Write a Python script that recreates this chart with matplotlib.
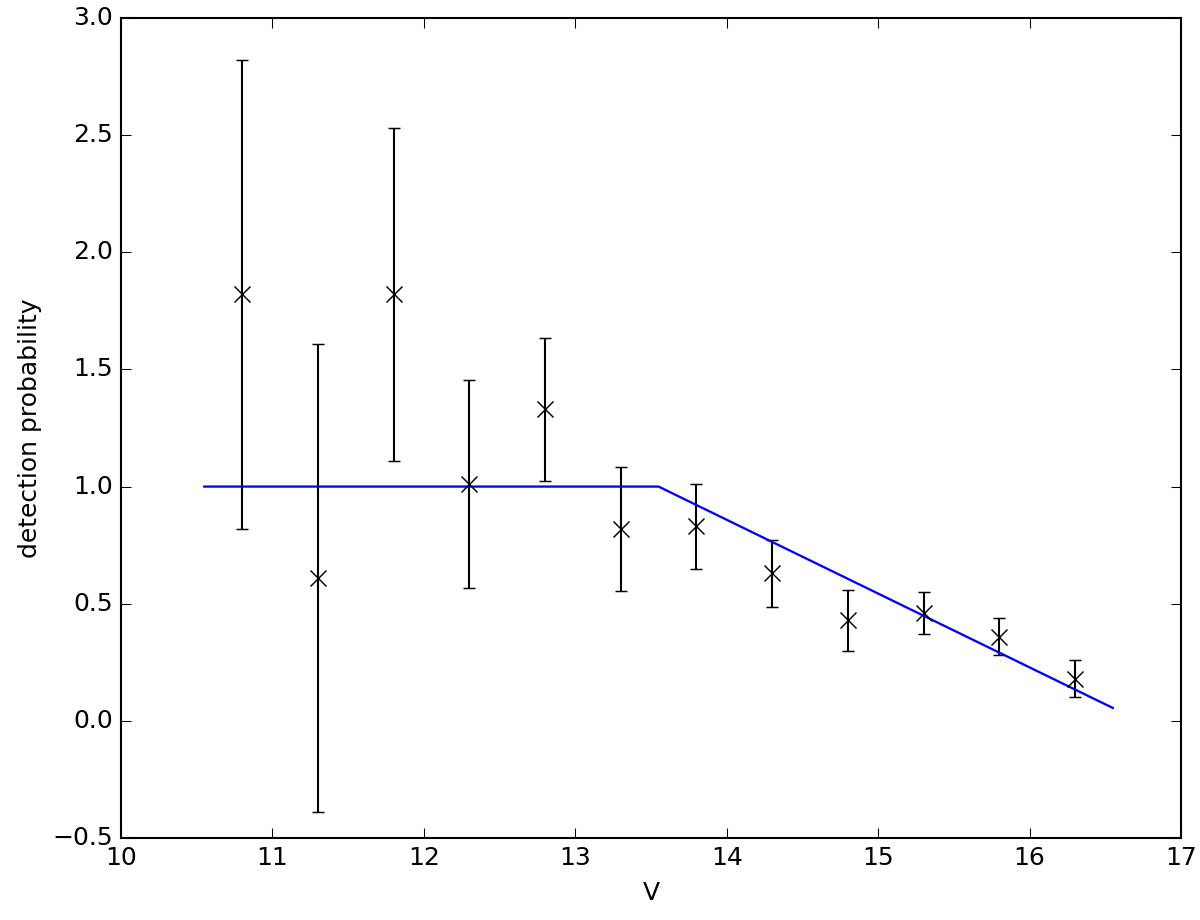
import matplotlib
matplotlib.use("Agg")
import matplotlib.pyplot as plt

plt.style.use('classic')

V = [10.8, 11.3, 11.8, 12.3, 12.8, 13.3, 13.8, 14.3, 14.8, 15.3, 15.8, 16.3]
prob = [1.82, 0.61, 1.82, 1.01, 1.33, 0.82, 0.83, 0.63, 0.43, 0.46, 0.36, 0.18]
err = [1.0, 1.0, 0.71, 0.445, 0.305, 0.265, 0.183, 0.142, 0.13, 0.09, 0.077, 0.08]

model_x = [10.55, 13.55, 16.55]
model_y = [1.0, 1.0, 0.055]

fig = plt.figure(figsize=(8, 920 / 150), dpi=150)
fig.patch.set_facecolor('white')
ax = fig.add_axes([121 / 1200, 1 - 838 / 920, 1060 / 1200, 820 / 920])

ax.errorbar(V, prob, yerr=err, fmt='x', color='black', ecolor='black',
            markersize=7.5, elinewidth=1.0, capsize=3, capthick=1.0, mew=0.7)
ax.plot(model_x, model_y, color='blue', linewidth=1.1)

ax.set_xlim(10, 17)
ax.set_ylim(-0.5, 3.0)
ax.set_xlabel('V', fontsize=12)
ax.set_ylabel('detection probability', fontsize=12)
ax.tick_params(labelsize=12, length=5)

fig.savefig('out.png', dpi=150, facecolor='white')
